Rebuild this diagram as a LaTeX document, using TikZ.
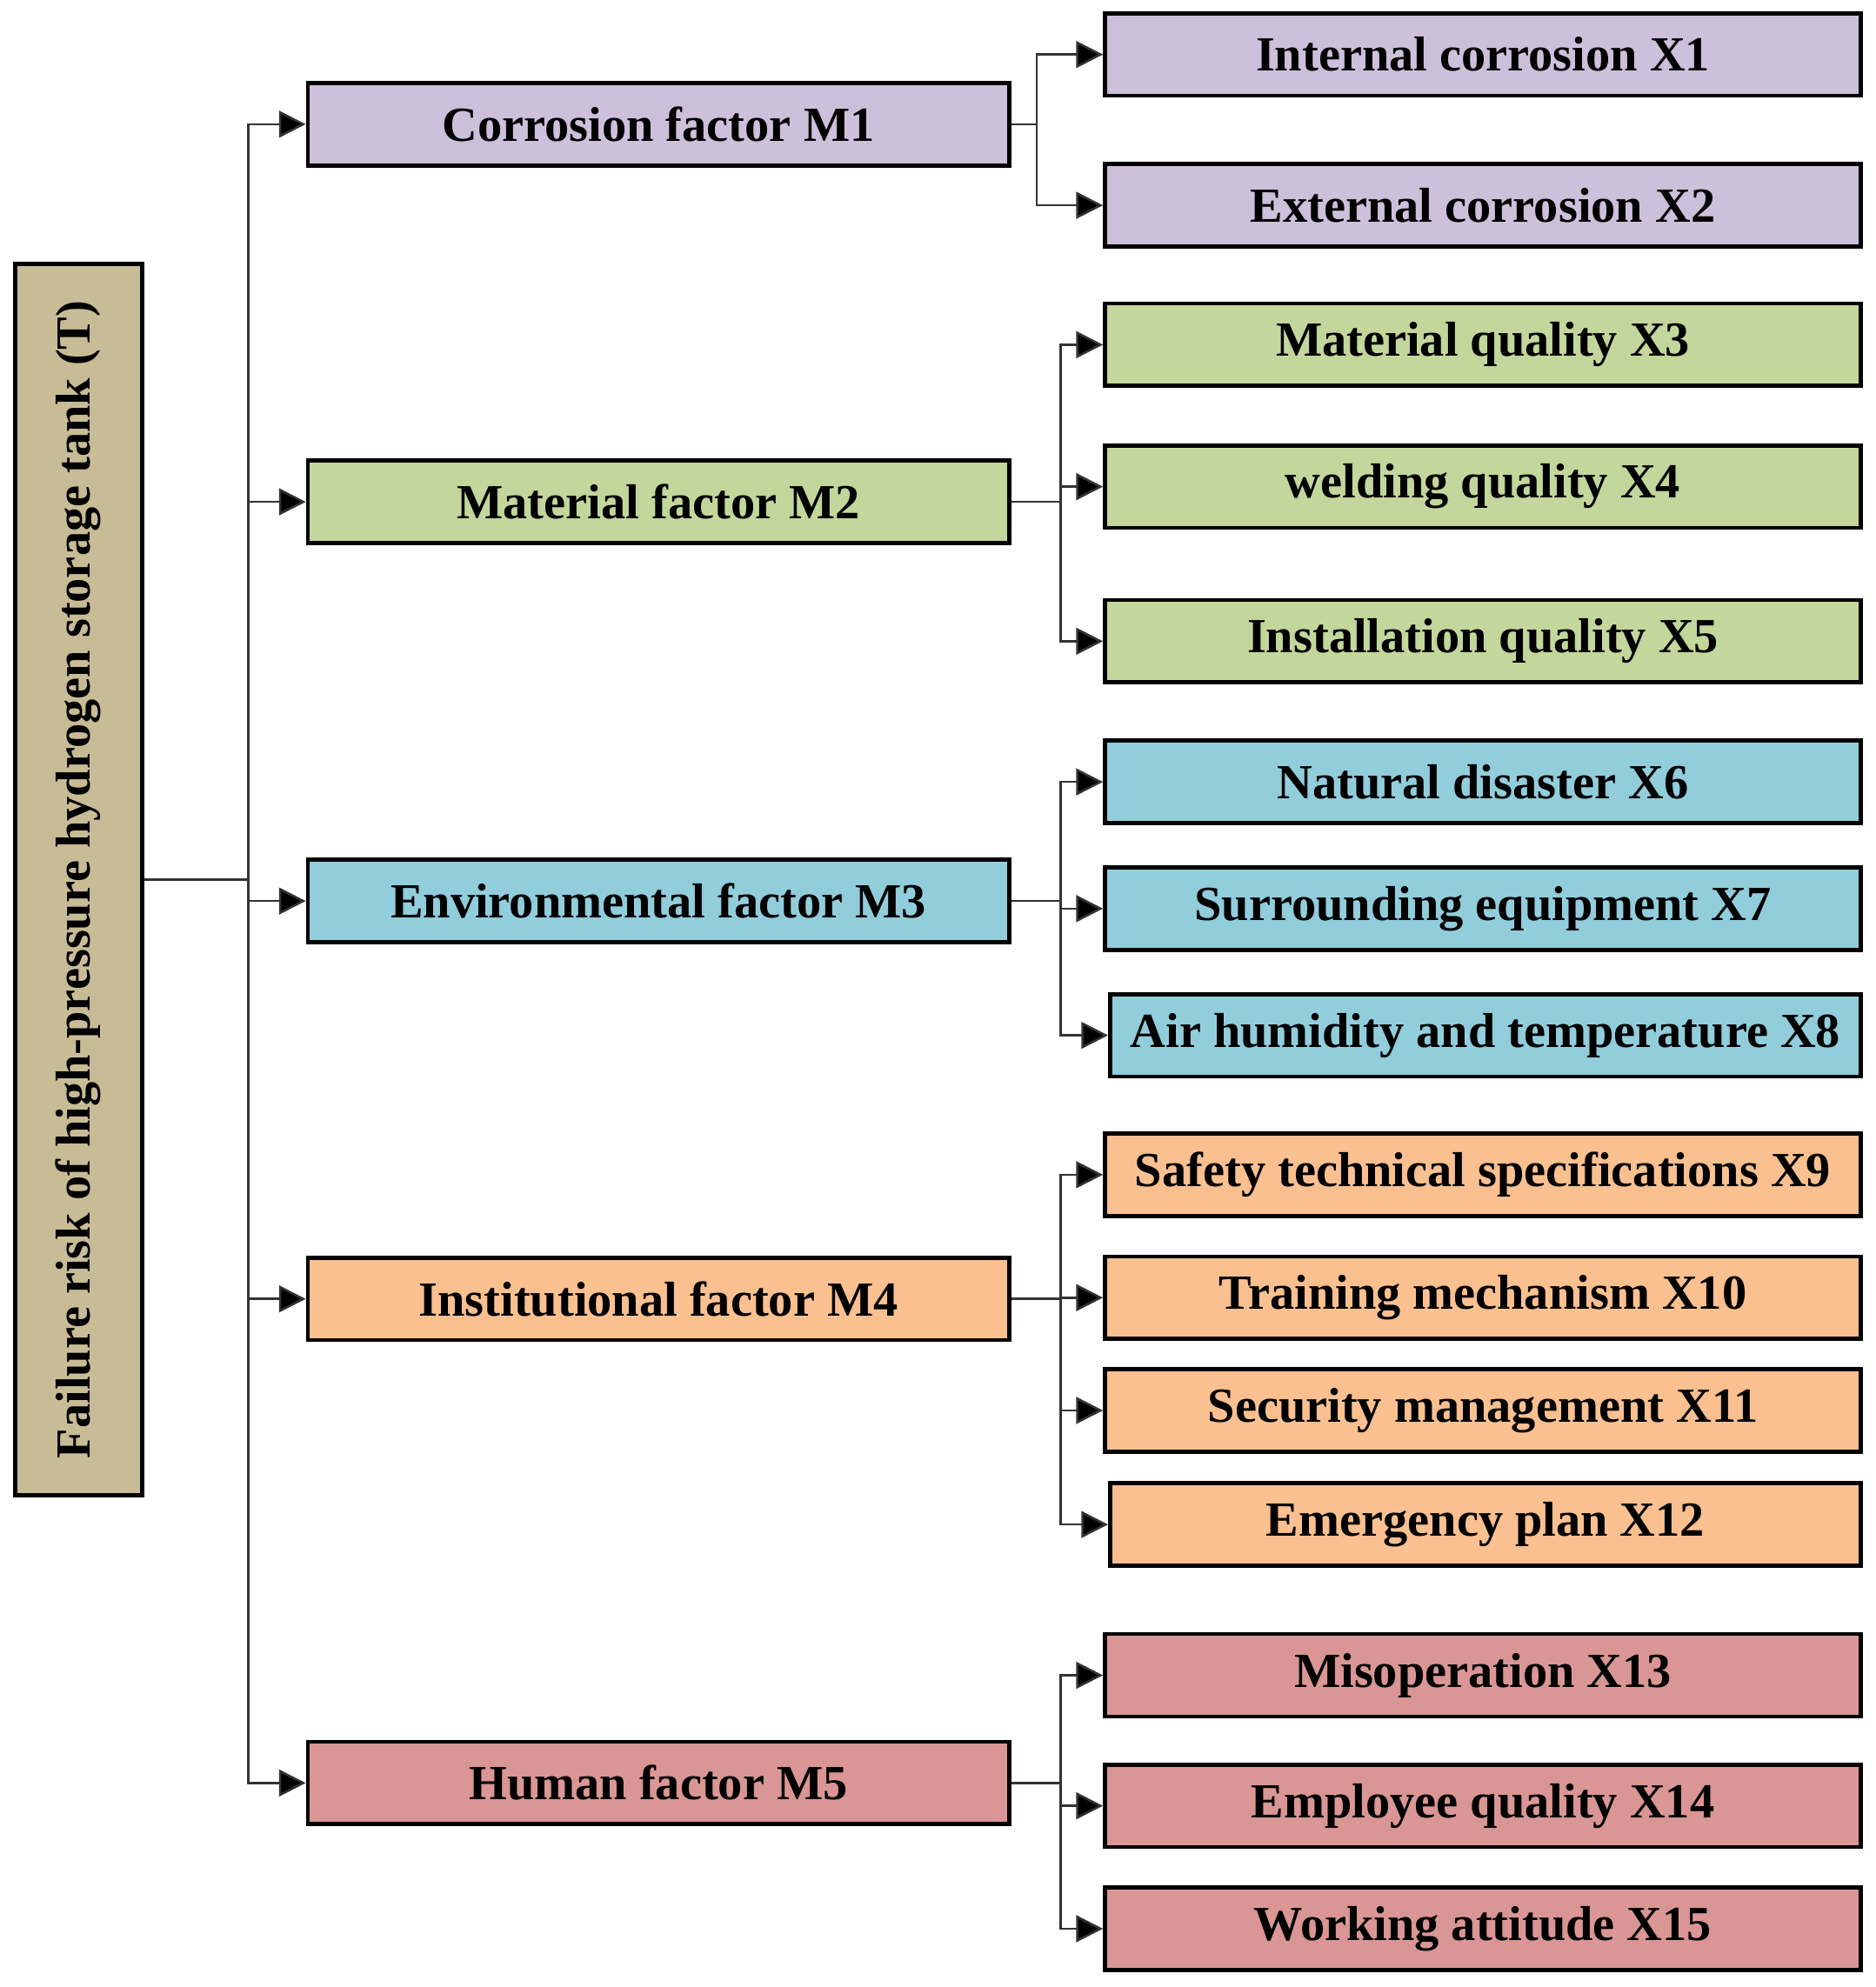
\documentclass[tikz,border=0pt]{standalone}
\usepackage{fontspec}
\setmainfont{Liberation Serif}
\usetikzlibrary{arrows.meta}
\definecolor{cT}{HTML}{C8BC96}
\definecolor{cP}{HTML}{CCC0DA}
\definecolor{cG}{HTML}{C3D69B}
\definecolor{cB}{HTML}{92CDDC}
\definecolor{cO}{HTML}{FAC090}
\definecolor{cR}{HTML}{D99694}
\begin{document}
\begin{tikzpicture}[x=0.01cm,y=-0.01cm,
  box/.style={draw=black,line width=0.9pt,minimum height=0.65cm,inner sep=0pt,font=\fontsize{11}{13}\selectfont\bfseries},
  mbox/.style={box,minimum width=5.53cm},
  xbox/.style={box,minimum width=5.96cm},
  ln/.style={draw=black!80,line width=0.5pt},
  arr/.style={ln,-{Triangle[length=6pt,width=6pt,fill=black]}}]
\useasboundingbox (0,0) rectangle (1480,1568);
\node[box,fill=cT,minimum width=9.71cm,minimum height=1.0cm,rotate=90] (T) at (62,694) {Failure risk of high-pressure hydrogen storage tank (T)};
\node[mbox,fill=cP] (M1) at (519.5,98) {Corrosion factor M1};
\node[mbox,fill=cG] (M2) at (519.5,396) {Material factor M2};
\node[mbox,fill=cB] (M3) at (519.5,711) {Environmental factor M3};
\node[mbox,fill=cO] (M4) at (519.5,1025) {Institutional factor M4};
\node[mbox,fill=cR] (M5) at (519.5,1407) {Human factor M5};
\node[xbox,fill=cP] (X1) at (1170,43) {Internal corrosion X1};
\node[xbox,fill=cP] (X2) at (1170,162) {External corrosion X2};
\node[xbox,fill=cG] (X3) at (1170,272) {Material quality X3};
\node[xbox,fill=cG] (X4) at (1170,384) {welding quality X4};
\node[xbox,fill=cG] (X5) at (1170,506) {Installation quality X5};
\node[xbox,fill=cB] (X6) at (1170,617) {Natural disaster X6};
\node[xbox,fill=cB] (X7) at (1170,717) {Surrounding equipment X7};
\node[xbox,fill=cB,minimum width=5.92cm] (X8) at (1172,817) {Air humidity and temperature X8};
\node[xbox,fill=cO] (X9) at (1170,927) {Safety technical specifications X9};
\node[xbox,fill=cO] (X10) at (1170,1024) {Training mechanism X10};
\node[xbox,fill=cO] (X11) at (1170,1113) {Security management X11};
\node[xbox,fill=cO,minimum width=5.92cm] (X12) at (1172,1203) {Emergency plan X12};
\node[xbox,fill=cR] (X13) at (1170,1322) {Misoperation X13};
\node[xbox,fill=cR] (X14) at (1170,1425) {Employee quality X14};
\node[xbox,fill=cR] (X15) at (1170,1522) {Working attitude X15};
\coordinate (t) at (196,694);
\draw[ln] (T.south) -- (t);
\foreach \m in {M1,M2,M3,M4,M5} \draw[arr] (t) |- (\m.west);
\coordinate (b1) at (818,98);
\coordinate (b2) at (837,396);
\coordinate (b3) at (837,711);
\coordinate (b4) at (837,1025);
\coordinate (b5) at (837,1407);
\draw[ln] (M1.east) -- (b1);
\draw[ln] (M2.east) -- (b2);
\draw[ln] (M3.east) -- (b3);
\draw[ln] (M4.east) -- (b4);
\draw[ln] (M5.east) -- (b5);
\foreach \x in {X1,X2} \draw[arr] (b1) |- (\x.west);
\foreach \x in {X3,X4,X5} \draw[arr] (b2) |- (\x.west);
\foreach \x in {X6,X7,X8} \draw[arr] (b3) |- (\x.west);
\foreach \x in {X9,X10,X11,X12} \draw[arr] (b4) |- (\x.west);
\foreach \x in {X13,X14,X15} \draw[arr] (b5) |- (\x.west);
\end{tikzpicture}
\end{document}
